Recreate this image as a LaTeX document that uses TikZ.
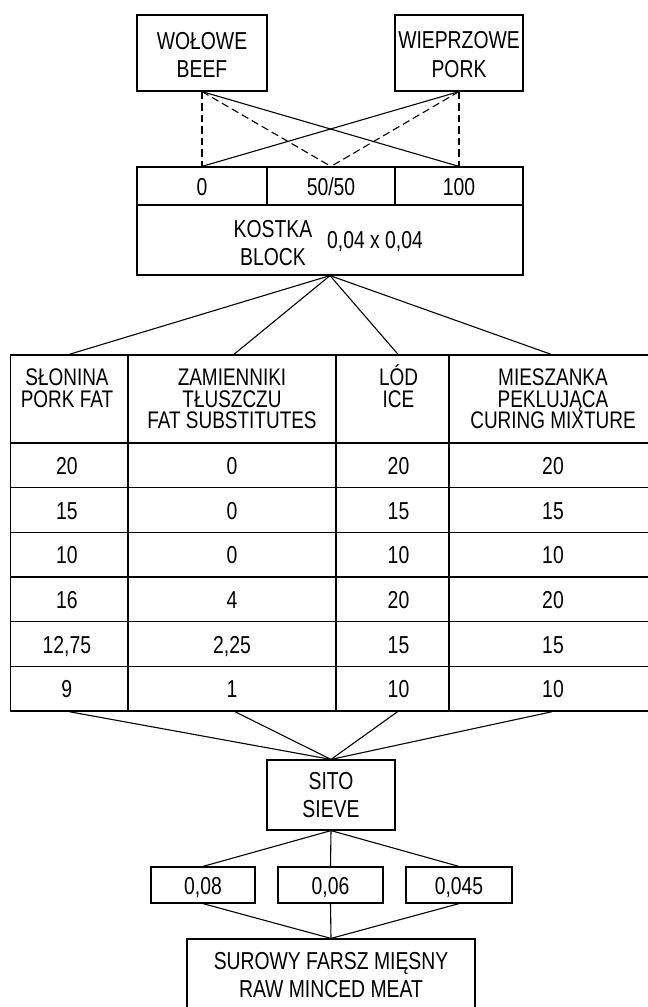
\documentclass[tikz,border=0pt]{standalone}
\usepackage{fontspec}
\setmainfont{Liberation Sans}[FakeStretch=0.79]
\newcommand\bxfont{\fontsize{24.5}{28.5}\selectfont}
\newcommand\hdfont{\fontsize{24}{21.8}\selectfont}
\newcommand\firstline{\rule{0pt}{20.5pt}}
\newcommand\hdline{\rule{0pt}{22.5pt}}
\tikzset{
  box/.style={draw, line width=1.2pt, inner sep=0pt, align=center, font=\bxfont},
  cellbox/.style={draw, line width=1.2pt, inner sep=0pt, font=\bxfont, text height=18pt, text depth=0pt},
  tcell/.style={draw, line width=1.4pt, inner sep=0pt, font=\bxfont, text height=18pt, text depth=0pt, minimum height=44.67pt},
  lbl/.style={inner sep=0pt, align=center, font=\bxfont},
  hdr/.style={inner sep=0pt, align=center, font=\hdfont, anchor=north},
  conn/.style={line width=1.1pt},
  dconn/.style={line width=1.1pt, dash pattern=on 7.5pt off 4pt},
}
\begin{document}
\begin{tikzpicture}[x=1pt, y=-1pt]
\useasboundingbox (0,0) rectangle (648,1007);
\clip (0,0) rectangle (648,1007);

% top boxes
\node[box, minimum width=130pt, minimum height=76pt] (beef) at (202,53) {\firstline WOŁOWE\\BEEF};
\node[box, minimum width=128pt, minimum height=76pt] (pork) at (459,53) {\firstline WIEPRZOWE\\PORK};

% ratio cells
\node[cellbox, minimum width=130pt, minimum height=38pt] (c0) at (202,186) {0};
\node[cellbox, minimum width=128pt, minimum height=38pt] (c50) at (331,186) {50/50};
\node[cellbox, minimum width=128pt, minimum height=38pt] (c100) at (459,186) {100};

% block
\node[draw, line width=1.2pt, minimum width=386pt, minimum height=70pt, inner sep=0pt] (block) at (330,240) {};
\node[lbl] (blocklbl) at (273,242.9) {KOSTKA\\BLOCK};
\node[lbl, anchor=base] (blockdim) at (375,248) {0,04 x 0,04};

% connectors top
\draw[dconn] (beef.south) -- (c0.north);
\draw[dconn] (beef.south) -- (c50.north);
\draw[conn] (beef.south) -- (c100.north);
\draw[dconn] (pork.south) -- (c100.north);
\draw[dconn] (pork.south) -- (c50.north);
\draw[conn] (pork.south) -- (c0.north);

% table header cells
\node[draw, line width=1.4pt, minimum width=117.3pt, minimum height=88pt, inner sep=0pt] (h1) at (69.35,399) {};
\node[draw, line width=1.4pt, minimum width=208pt, minimum height=88pt, inner sep=0pt] (h2) at (232,399) {};
\node[draw, line width=1.4pt, minimum width=113pt, minimum height=88pt, inner sep=0pt] (h3) at (392.5,399) {};
\node[draw, line width=1.4pt, minimum width=208pt, minimum height=88pt, inner sep=0pt] (h4) at (553,399) {};

\node[hdr] (t1) at (67,362.5) {\hdline SŁONINA\\PORK FAT};
\node[hdr] (t2) at (232,362.5) {\hdline ZAMIENNIKI\\TŁUSZCZU\\FAT SUBSTITUTES};
\node[hdr] (t3) at (398.5,362.5) {\hdline LÓD\\ICE};
\node[hdr] (t4) at (553,362.5) {\hdline MIESZANKA\\PEKLUJĄCA\\CURING MIXTURE};

% data rows
\foreach \r/\a/\b/\c/\d in {1/20/0/20/20, 2/15/0/15/15, 3/10/0/10/10, 4/16/4/20/20, 5/{12,75}/{2,25}/15/15, 6/9/1/10/10}{
  \pgfmathsetmacro\yy{443+44.67*(\r-0.5)}
  \node[tcell, minimum width=117.3pt] (r\r c1) at (69.35,\yy) {\hspace*{-5pt}\a};
  \node[tcell, minimum width=208pt] (r\r c2) at (232,\yy) {\b};
  \node[tcell, minimum width=113pt] (r\r c3) at (392.5,\yy) {\hspace*{12pt}\c};
  \node[tcell, minimum width=208pt] (r\r c4) at (553,\yy) {\d};
}

% connectors block -> header
\draw[conn] (block.south) -- (h1.north);
\draw[conn] (block.south) -- ([xshift=2pt]h2.north);
\draw[conn] (block.south) -- ([xshift=5.5pt]h3.north);
\draw[conn] (block.south) -- ([xshift=-2pt]h4.north);

% sieve
\node[box, minimum width=128pt, minimum height=70pt] (sito) at (331,795) {SITO\\SIEVE};
\draw[conn] (r6c1.south) -- (sito.north);
\draw[conn] ([xshift=3pt]r6c2.south) -- (sito.north);
\draw[conn] ([xshift=5pt]r6c3.south) -- (sito.north);
\draw[conn] ([xshift=-1pt]r6c4.south) -- (sito.north);

% sieve sizes
\node[cellbox, minimum width=104pt, minimum height=36pt] (s1) at (203,885) {0,08};
\node[cellbox, minimum width=105pt, minimum height=36pt] (s2) at (330.5,885) {0,06};
\node[cellbox, minimum width=106pt, minimum height=36pt] (s3) at (459,885) {0,045};
\draw[conn] (sito.south) -- (s1.north);
\draw[conn] (sito.south) -- (s2.north);
\draw[conn] (sito.south) -- (s3.north);

% raw minced meat
\node[box, minimum width=288pt, minimum height=72pt] (raw) at (331,975) {SUROWY FARSZ MIĘSNY\\RAW MINCED MEAT};
\draw[conn] (s1.south) -- (raw.north);
\draw[conn] (s2.south) -- (raw.north);
\draw[conn] (s3.south) -- (raw.north);
\end{tikzpicture}
\end{document}
